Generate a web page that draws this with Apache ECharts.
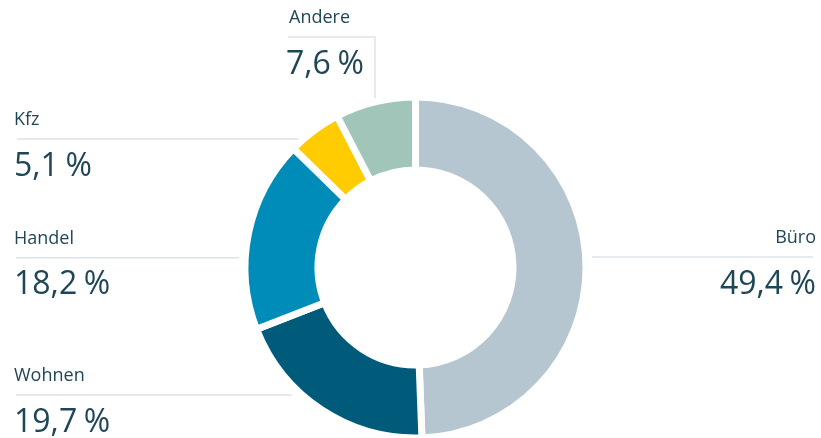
<!DOCTYPE html>
<html>
<head>
<meta charset="utf-8">
<script src="https://cdn.jsdelivr.net/npm/echarts@6/dist/echarts.min.js"></script>
<style>
html,body{margin:0;padding:0;background:#fff;}
#chart{width:821px;height:438px;}
</style>
</head>
<body>
<div id="chart"></div>
<script>
const categories = ['Büro', 'Wohnen', 'Handel', 'Kfz', 'Andere'];
const shares = [49.4, 19.7, 18.2, 5.1, 7.6];
const colors = ['#b6c6d1', '#005b7b', '#008cb9', '#fecc00', '#a2c5b9'];

// label placement (layout only)
const placement = [
  { align: 'right', x: 816, lineY: 257, nameStyle: 'n', pts: [[592, 257], [592, 257], [813, 257]] },
  { align: 'left', x: 14, lineY: 395, nameStyle: 'n', pts: [[292, 395], [292, 395], [16, 395]] },
  { align: 'left', x: 14, lineY: 257.7, nameStyle: 'n', pts: [[239, 257.7], [239, 257.7], [16, 257.7]] },
  { align: 'left', x: 14, lineY: 139, nameStyle: 'n', pts: [[300, 139], [300, 139], [17, 139]] },
  { align: 'left', x: 286, lineY: 37, nameStyle: 'na', pts: [[375, 98], [375, 37], [288, 37]] }
];

const fmtNum = v => v.toFixed(1).replace('.', ',');

const chart = echarts.init(document.getElementById('chart'), null, { renderer: 'canvas' });
chart.setOption({
  animation: false,
  series: [{
    type: 'pie',
    center: [415.5, 267.5],
    radius: [97.5, 170.5],
    startAngle: 90,
    clockwise: true,
    avoidLabelOverlap: false,
    data: categories.map((c, i) => ({ name: c, value: shares[i], itemStyle: { color: colors[i] } })),
    itemStyle: { borderColor: '#ffffff', borderWidth: 7 },
    emphasis: { disabled: true },
    label: {
      show: true,
      position: 'outside',
      fontFamily: 'Open Sans',
      color: '#1e4656',
      formatter: p => '{' + placement[p.dataIndex].nameStyle + '|' + p.name + '}\n{v|' + fmtNum(p.value) + '}{p|%}',
      rich: {
        n: { fontFamily: 'Open Sans', fontSize: 18, lineHeight: 38, color: '#1e4656' },
        na: { fontFamily: 'Open Sans', fontSize: 18, lineHeight: 38, color: '#1e4656', padding: [0, 0, 0, 3] },
        v: { fontFamily: 'Open Sans', fontSize: 32, lineHeight: 55, color: '#1e4656' },
        p: { fontFamily: 'Open Sans', fontSize: 32, lineHeight: 55, color: '#1e4656', padding: [0, 0, 0, 6.5] }
      }
    },
    labelLine: {
      show: true,
      smooth: false,
      lineStyle: { color: '#dde3e8', width: 1.5 }
    },
    labelLayout: function (params) {
      const p = placement[params.dataIndex];
      return {
        x: p.x,
        y: p.lineY - 38,
        align: p.align,
        verticalAlign: 'top',
        labelLinePoints: p.pts
      };
    }
  }]
});
</script>
</body>
</html>
